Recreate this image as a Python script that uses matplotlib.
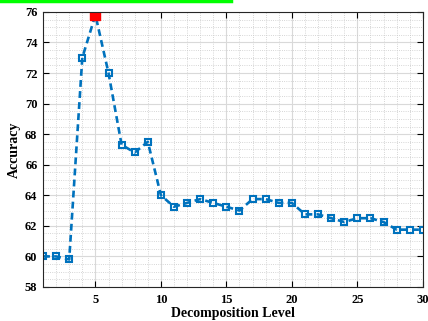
import matplotlib.pyplot as plt
import numpy as np
from matplotlib.lines import Line2D
from matplotlib.ticker import MultipleLocator

# Data
levels = list(range(1, 31))
accuracy = [60.0, 60.0, 59.8, 73.0, 75.8, 72.0, 67.3, 66.8, 67.5, 64.0,
            63.25, 63.5, 63.75, 63.5, 63.25, 63.0, 63.75, 63.75, 63.5, 63.5,
            62.75, 62.75, 62.5, 62.25, 62.5, 62.5, 62.25, 61.75, 61.75, 61.75]
best_level = 5

plt.rcParams['font.family'] = ['Liberation Serif', 'DejaVu Serif']
plt.rcParams['font.weight'] = 'bold'

fig = plt.figure(figsize=(4.28, 3.21), dpi=100)
ax = fig.add_axes([0.1005, 0.106, 0.8875, 0.857])

ax.plot(levels, accuracy, linestyle='--', dashes=(2.6, 1.6), color='#0072BD',
        linewidth=1.9, marker='s', markersize=4.2, markerfacecolor='none',
        markeredgewidth=1.5)
ax.plot(best_level, accuracy[levels.index(best_level)], marker='s', markersize=6.5,
        color='red', linestyle='none')

ax.set_xlim(1, 30)
ax.set_ylim(58, 76)
ax.set_xticks([5, 10, 15, 20, 25, 30])
ax.set_yticks(np.arange(58, 77, 2))
ax.xaxis.set_minor_locator(MultipleLocator(1))
ax.yaxis.set_minor_locator(MultipleLocator(0.5))

ax.grid(True, which='major', color='#d9d9d9', linewidth=0.8)
ax.grid(True, which='minor', color='#c8c8c8', linestyle=':', linewidth=0.6)
ax.tick_params(which='major', direction='in', top=True, right=True, length=4,
               width=0.8, labelsize=9, pad=4)
ax.tick_params(axis='x', which='major', pad=5)
ax.tick_params(which='minor', length=0)
for lab in ax.get_xticklabels() + ax.get_yticklabels():
    lab.set_fontweight('bold')
for s in ax.spines.values():
    s.set_linewidth(0.8)
    s.set_color('#262626')

ax.set_xlabel('Decomposition Level', fontsize=10, fontweight='bold', labelpad=1)
ax.set_ylabel('Accuracy', fontsize=10, fontweight='bold', labelpad=3)

# green bar at top edge
fig.add_artist(Line2D([0, 231 / 428], [0.997, 0.997], color='#00FF00', linewidth=2.5,
                      transform=fig.transFigure))

plt.savefig('out.png', dpi=100)
